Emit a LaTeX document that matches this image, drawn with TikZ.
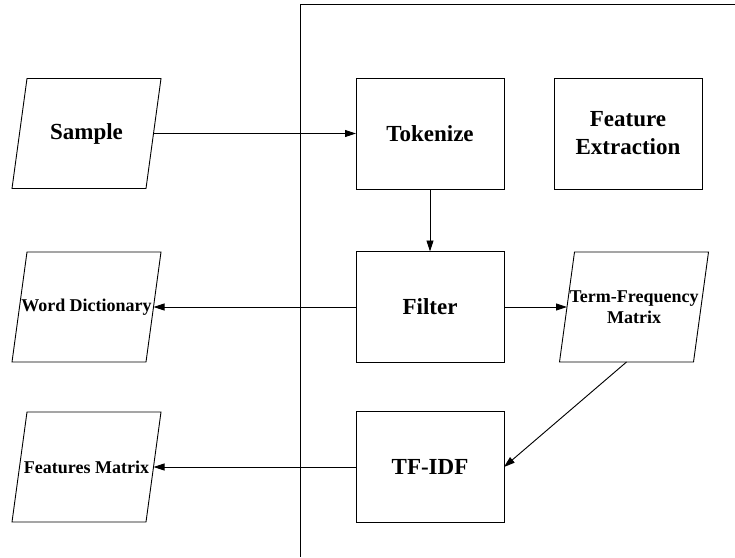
\documentclass[tikz,border=0pt]{standalone}
\usepackage{fontspec}
\setmainfont{Liberation Serif}
\newfontfamily\tms{Liberation Serif}
\usetikzlibrary{arrows.meta}
\newcommand{\drawpara}[1]{%
  \draw[line width=0.9pt] ([xshift=7.5pt]#1.north west) -- ([xshift=7.5pt]#1.north east)
    -- ([xshift=-7.5pt]#1.south east) -- ([xshift=-7.5pt]#1.south west) -- cycle;}
\begin{document}
\begin{tikzpicture}[x=1pt,y=-1pt,
  every node/.style={inner sep=0pt, outer sep=0pt},
  box/.style={draw, line width=0.9pt, rectangle, minimum width=148pt, minimum height=111pt, align=center, font=\tms\fontsize{23}{28}\selectfont\bfseries},
  para/.style={rectangle, minimum width=134pt, minimum height=110pt, align=center, font=\tms\fontsize{18}{21}\selectfont\bfseries},
  bigtext/.style={font=\tms\fontsize{23}{28}\selectfont\bfseries},
  arr/.style={-{Triangle[length=11pt,width=7pt]}, line width=0.9pt}
]
\useasboundingbox (0,0) rectangle (735,557);
% frame
\coordinate (ftr) at (735,4);
\coordinate (ftl) at (300,4);
\coordinate (fbl) at (300,557);
\draw[line width=0.9pt] (ftr) -- (ftl) -- (fbl);

\node[para, bigtext] (sample) at (86.5,133.5) {Sample};
\node[para] (wd) at (86.5,307) {Word Dictionary};
\node[para] (fm) at (86.5,467) {Features Matrix};
\node[para] (tf) at (634,307) {Term-Frequency\\Matrix};
\drawpara{sample}
\drawpara{wd}
\drawpara{fm}
\drawpara{tf}

\node[box] (tok) at (430,133.5) {Tokenize};
\node[box] (fe) at (628,133.5) {Feature\\Extraction};
\node[box] (filter) at (430,307) {Filter};
\node[box] (tfidf) at (430,467) {TF-IDF};

\draw[arr] (sample.east) -- (tok);
\draw[arr] (tok) -- (filter);
\draw[arr] (filter) -- (wd);
\draw[arr] (filter) -- (tf);
\draw[arr] ([xshift=-7.5pt]tf.south) -- (tfidf.east);
\draw[arr] (tfidf) -- (fm);
\end{tikzpicture}
\end{document}
